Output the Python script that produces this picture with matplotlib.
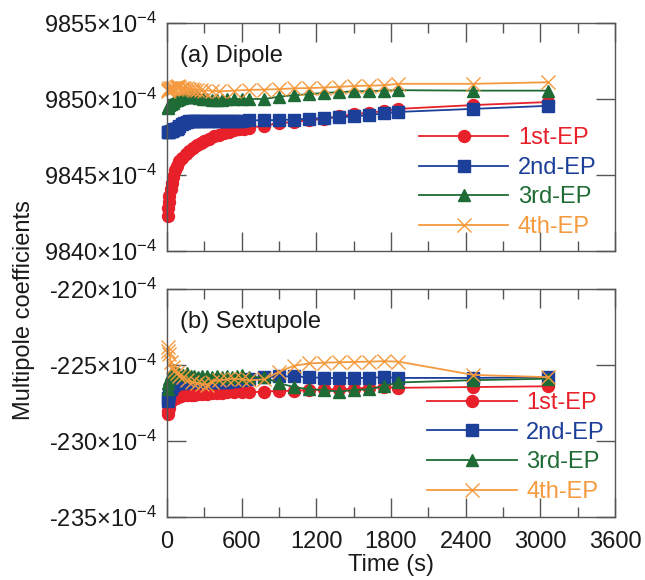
import matplotlib
matplotlib.use("Agg")
import matplotlib.pyplot as plt
from matplotlib.ticker import MultipleLocator, FuncFormatter

plt.rcParams["font.family"] = ["Liberation Sans", "DejaVu Sans"]
plt.rcParams["mathtext.fontset"] = "custom"
plt.rcParams["mathtext.rm"] = "Liberation Sans"
plt.rcParams["mathtext.it"] = "Liberation Sans:italic"
plt.rcParams["mathtext.bf"] = "Liberation Sans:bold"
plt.rcParams["mathtext.sf"] = "Liberation Sans"

FS = 17

# ---- (a) dipole, values in units of 1e-4 ----
t_dip_1 = [5, 10, 15, 20, 30, 40, 50, 65, 80, 100, 120, 150, 180, 210, 240, 270, 300, 340,
           380, 420, 460, 500, 540, 580, 620, 660, 780, 900, 1020, 1140, 1260, 1380, 1500,
           1620, 1740, 1860, 2460, 3060]
dip_1 = [9842.3, 9842.8, 9843.2, 9843.6, 9844.1, 9844.5, 9844.9, 9845.3, 9845.6, 9845.9,
         9846.1, 9846.4, 9846.6, 9846.8, 9847.0, 9847.1, 9847.25, 9847.4, 9847.55, 9847.65,
         9847.75, 9847.85, 9847.95, 9848.0, 9848.05, 9848.1, 9848.25, 9848.4, 9848.5, 9848.6,
         9848.7, 9848.85, 9849.0, 9849.1, 9849.2, 9849.35, 9849.6, 9849.8]

t_dip_2 = [5, 10, 20, 30, 40, 50, 60, 70, 80, 90, 100, 120, 140, 160, 180, 200, 220, 240,
           270, 300, 330, 360, 390, 420, 450, 480, 510, 540, 570, 600, 660, 780, 900, 1020,
           1140, 1260, 1380, 1500, 1620, 1740, 1860, 2460, 3060]
dip_2 = [9847.8, 9847.85, 9847.85, 9847.9, 9847.9, 9847.95, 9848.0, 9848.0, 9848.05, 9848.1,
         9848.2, 9848.35, 9848.45, 9848.5, 9848.55, 9848.55, 9848.55, 9848.55, 9848.55,
         9848.55, 9848.55, 9848.55, 9848.55, 9848.55, 9848.55, 9848.55, 9848.55, 9848.55,
         9848.55, 9848.55, 9848.6, 9848.6, 9848.62, 9848.65, 9848.7, 9848.75, 9848.8,
         9848.85, 9848.95, 9849.05, 9849.15, 9849.35, 9849.55]

t_dip_3 = [5, 10, 20, 30, 45, 60, 80, 100, 120, 140, 160, 180, 200, 230, 260, 290, 320, 360,
           400, 440, 480, 540, 600, 660, 780, 900, 1020, 1140, 1260, 1380, 1500, 1620, 1740,
           1860, 2460, 3060]
dip_3 = [9849.4, 9849.5, 9849.6, 9849.65, 9849.75, 9849.85, 9849.95, 9850.0, 9850.05,
         9850.1, 9850.1, 9850.12, 9850.12, 9850.1, 9850.05, 9850.0, 9849.98, 9849.95,
         9849.95, 9849.95, 9849.97, 9850.0, 9850.0, 9850.0, 9850.0, 9850.15, 9850.25,
         9850.32, 9850.4, 9850.45, 9850.5, 9850.52, 9850.55, 9850.58, 9850.55, 9850.55]

t_dip_4 = [5, 10, 15, 20, 30, 40, 50, 60, 70, 80, 90, 100, 120, 140, 160, 180, 200, 220, 240,
           270, 300, 360, 420, 540, 660, 780, 900, 1020, 1140, 1260, 1380, 1500, 1620, 1740,
           1860, 2460, 3060]
dip_4 = [9850.6, 9850.5, 9850.7, 9850.6, 9850.75, 9850.65, 9850.7, 9850.75, 9850.8, 9850.8,
         9850.85, 9850.8, 9850.75, 9850.7, 9850.7, 9850.65, 9850.65, 9850.6, 9850.6, 9850.6,
         9850.55, 9850.55, 9850.5, 9850.55, 9850.6, 9850.62, 9850.65, 9850.7, 9850.72,
         9850.75, 9850.8, 9850.85, 9850.88, 9850.9, 9851.0, 9851.0, 9851.1]

# ---- (b) sextupole, values in units of 1e-4 ----
t_sex_1 = [5, 10, 15, 20, 30, 40, 55, 70, 90, 110, 130, 160, 190, 220, 250, 280, 320, 360,
           400, 440, 480, 540, 600, 660, 780, 900, 1020, 1140, 1260, 1380, 1500, 1620, 1740,
           1860, 2460, 3060]
sex_1 = [-228.2, -228.0, -227.8, -227.6, -227.4, -227.3, -227.2, -227.15, -227.1, -227.05,
         -227.0, -227.0, -226.95, -226.95, -226.9, -226.9, -226.9, -226.85, -226.85, -226.85,
         -226.8, -226.8, -226.8, -226.8, -226.75, -226.7, -226.7, -226.65, -226.6, -226.6,
         -226.55, -226.5, -226.45, -226.5, -226.45, -226.4]

t_sex_2 = [5, 10, 20, 30, 40, 50, 60, 80, 100, 120, 150, 180, 210, 240, 270, 300, 330, 360,
           390, 420, 450, 480, 510, 540, 570, 600, 660, 780, 900, 1020, 1140, 1260, 1380,
           1500, 1620, 1740, 1860, 2460, 3060]
sex_2 = [-227.4, -227.2, -226.9, -226.6, -226.4, -226.3, -226.25, -226.2, -226.2, -226.2,
         -226.15, -226.15, -226.15, -226.15, -226.15, -226.15, -226.15, -226.1, -226.1,
         -226.1, -226.1, -226.1, -226.05, -226.05, -226.0, -226.0, -225.95, -225.8, -225.75,
         -225.75, -225.8, -225.85, -225.85, -225.85, -225.85, -225.8, -225.85, -225.85,
         -225.8]

t_sex_3 = [5, 10, 20, 30, 45, 60, 80, 100, 130, 160, 190, 220, 250, 280, 320, 360, 400, 440,
           480, 520, 560, 600, 660, 780, 900, 1020, 1140, 1260, 1380, 1500, 1620, 1740, 1860,
           2460, 3060]
sex_3 = [-226.6, -226.2, -225.9, -225.6, -225.4, -225.35, -225.5, -225.6, -225.65, -225.55,
         -225.7, -225.75, -225.8, -225.7, -225.75, -225.8, -225.75, -225.8, -225.7, -225.8,
         -225.7, -225.65, -225.8, -225.8, -226.2, -226.45, -226.6, -226.65, -226.75, -226.65,
         -226.6, -226.4, -226.15, -226.0, -225.9]

t_sex_4 = [5, 10, 20, 30, 45, 60, 80, 100, 130, 160, 200, 240, 280, 320, 360, 420, 480, 540,
           600, 660, 780, 900, 1020, 1140, 1260, 1380, 1500, 1620, 1740, 1860, 2460, 3060]
sex_4 = [-224.1, -223.8, -224.3, -224.8, -225.1, -225.4, -225.5, -225.7, -225.8, -226.0,
         -226.1, -226.2, -226.25, -226.3, -226.1, -226.0, -225.95, -225.9, -225.95, -226.0,
         -225.95, -225.45, -225.05, -224.9, -224.85, -224.82, -224.8, -224.78, -224.75,
         -224.78, -225.65, -225.8]

labels = ["1st-EP", "2nd-EP", "3rd-EP", "4th-EP"]
colors = ["#e8202a", "#1c3f9a", "#1f6b35", "#f59a3e"]
markers = ["o", "s", "^", "x"]
msizes = [8.6, 8.2, 8.0, 9.5]


def fmt(v, pos):
    return f"{v:.0f}\u00d710$^{{-4}}$"


fig = plt.figure(figsize=(6.45, 5.8), dpi=100)
ax_a = fig.add_axes([167 / 645, 329 / 580, 448 / 645, 228 / 580])
ax_b = fig.add_axes([167 / 645, 63 / 580, 448 / 645, 228 / 580])

panels = [
    (ax_a, [(t_dip_1, dip_1), (t_dip_2, dip_2), (t_dip_3, dip_3), (t_dip_4, dip_4)],
     (9840, 9855), "(a) Dipole", (0.562, 0.30)),
    (ax_b, [(t_sex_1, sex_1), (t_sex_2, sex_2), (t_sex_3, sex_3), (t_sex_4, sex_4)],
     (-235, -220), "(b) Sextupole", (0.58, 0.305)),
]

for ax, series, ylim, title, leg_pos in panels:
    for (t, v), lab, c, m, ms in zip(series, labels, colors, markers, msizes):
        ax.plot(t, v, color=c, marker=m, markersize=ms, lw=1.3, mew=1.0,
                label=lab, clip_on=False)
    ax.set_xlim(0, 3600)
    ax.set_ylim(*ylim)
    ax.xaxis.set_major_locator(MultipleLocator(600))
    ax.xaxis.set_minor_locator(MultipleLocator(300))
    ax.yaxis.set_major_locator(MultipleLocator(5))
    ax.yaxis.set_major_formatter(FuncFormatter(fmt))
    ax.tick_params(which="both", direction="in", top=True, right=True,
                   color="#555555", width=1.0, labelsize=FS, labelcolor="#1a1a1a")
    ax.tick_params(which="major", length=14, pad=7)
    ax.tick_params(which="minor", length=7)
    ax.tick_params(axis="x", which="major", pad=10)
    for sp in ax.spines.values():
        sp.set_color("#555555")
        sp.set_linewidth(1.0)
    ax.text(0.029, 0.855, title, transform=ax.transAxes, fontsize=FS,
            ha="left", va="center", color="#1a1a1a")
    ax.legend(loc="center left", bbox_to_anchor=leg_pos, frameon=False,
              fontsize=FS, handlelength=3.8, handletextpad=0.4,
              labelspacing=0.32, borderpad=0, borderaxespad=0,
              labelcolor="linecolor")

ax_a.tick_params(axis="x", labelbottom=False)
ax_b.set_xlabel("Time (s)", fontsize=FS, labelpad=1, color="#1a1a1a")
fig.text(24 / 645, 270 / 580, "Multipole coefficients", rotation=90,
         fontsize=FS, ha="center", va="center", color="#1a1a1a")

fig.savefig("out.png", dpi=100)
